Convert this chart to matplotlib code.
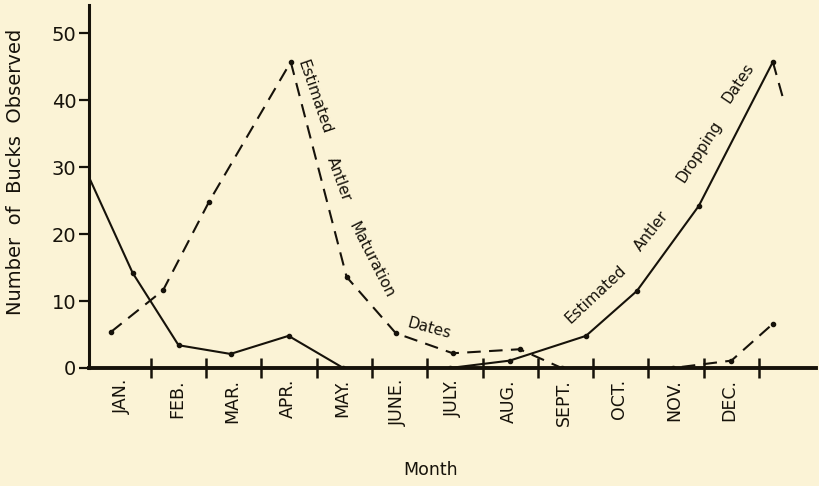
import numpy as np
import matplotlib
matplotlib.use("Agg")
import matplotlib.pyplot as plt

BG, INK = "#fbf3d6", "#16120a"

# ── Data ───────────────────────────────────────────────────────────────────────
months = ["JAN.", "FEB.", "MAR.", "APR.", "MAY.", "JUNE.", "JULY.",
          "AUG.", "SEPT.", "OCT.", "NOV.", "DEC."]

# antler dropping (solid)
drop_x = [-0.12, 0.67, 1.50, 2.44, 3.49, 4.48, 6.41, 7.49, 8.87, 9.79, 10.91, 12.25]
drop_y = [28.5, 14.2, 3.4, 2.1, 4.8, 0.0, 0.0, 1.1, 4.8, 11.5, 24.2, 45.7]

# antler maturation (dashed)
mat_x = [0.28, 1.22, 2.05, 3.53, 4.54, 5.43, 6.46, 7.67, 8.43, 10.44, 11.50, 12.25]
mat_y = [5.4, 11.6, 24.8, 45.7, 13.6, 5.2, 2.2, 2.8, 0.0, 0.0, 1.1, 6.6]

# short dashed tail after the December peak
tail_x = [12.25, 12.43]
tail_y = [45.7, 40.4]

yticks = [0, 10, 20, 30, 40, 50]

# ── Figure ─────────────────────────────────────────────────────────────────────
fig = plt.figure(figsize=(8.2, 4.86), dpi=100, facecolor=BG)
ax = fig.add_axes([0.1085, 0.2428, 0.8866, 0.7469], facecolor=BG)

ax.plot(drop_x, drop_y, color=INK, lw=1.5, marker="o", ms=3, markevery=list(range(1, len(drop_x))))
ax.plot(mat_x, mat_y, color=INK, lw=1.5, ls=(0, (6.5, 4)), marker="o", ms=3)
ax.plot(tail_x, tail_y, color=INK, lw=1.5, ls=(0, (6.5, 4)))

ax.set_xlim(-0.12, 13.03)
ax.set_ylim(0, 54.2)

for s in ["top", "right"]:
    ax.spines[s].set_visible(False)
ax.spines["left"].set_linewidth(2.2)
ax.spines["bottom"].set_linewidth(2.8)
ax.spines["left"].set_color(INK)
ax.spines["bottom"].set_color(INK)

ax.set_yticks(yticks)
ax.set_yticklabels([str(v) for v in yticks], fontsize=14, color=INK)
ax.tick_params(axis="y", direction="out", length=7, width=1.6, color=INK, pad=2)

ax.set_xticks(np.arange(1, 13))
ax.set_xticklabels([])
ax.tick_params(axis="x", which="major", direction="inout", length=15, width=1.8, color=INK)
ax.set_xticks(np.arange(12) + 0.47, minor=True)
ax.set_xticklabels(months, minor=True, rotation=90, fontsize=12.5, color=INK)
ax.tick_params(axis="x", which="minor", length=0, pad=8)

ax.set_ylabel("Number  of  Bucks  Observed", fontsize=14, color=INK)
ax.yaxis.set_label_coords(-0.088, 0.54)
ax.set_xlabel("Month", fontsize=12.5, color=INK)
ax.xaxis.set_label_coords(0.47, -0.255)

# ── Curve labels ───────────────────────────────────────────────────────────────
kw = dict(fontsize=11, color=INK, ha="center", va="center")
ax.text(3.95, 40.4, "Estimated", rotation=-71, **kw)
ax.text(4.40, 28.2, "Antler", rotation=-70, **kw)
ax.text(4.98, 16.1, "Maturation", rotation=-63, **kw)
ax.text(6.03, 5.9, "Dates", rotation=-15, **kw)

ax.text(9.05, 11.0, "Estimated", rotation=43, **kw)
ax.text(10.05, 20.5, "Antler", rotation=52, **kw)
ax.text(10.92, 32.3, "Dropping", rotation=57, **kw)
ax.text(11.62, 42.6, "Dates", rotation=56, **kw)

fig.savefig("out.png", dpi=100, facecolor=BG)
